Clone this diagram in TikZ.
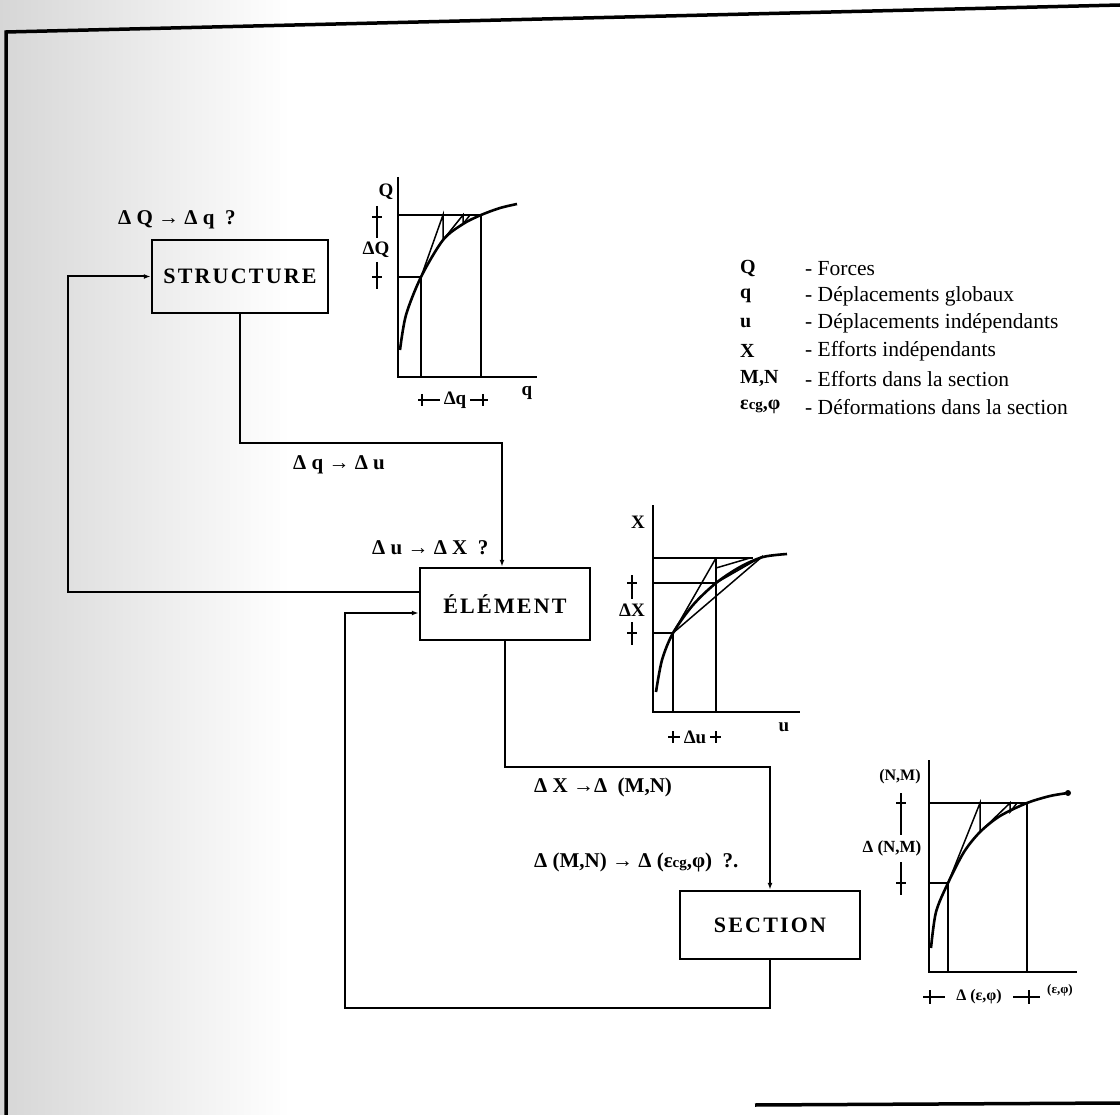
\documentclass[tikz,border=0pt]{standalone}
\usepackage{fontspec}
\setmainfont{Liberation Serif}
\newfontfamily\boxfont[LetterSpace=10]{Liberation Serif}
\usetikzlibrary{arrows.meta}
\begin{document}
\begin{tikzpicture}[x=1pt,y=-1pt,
  box/.style={draw,line width=2.5pt,inner sep=0pt,font=\boxfont\fontsize{22}{24}\selectfont\bfseries},
  arr/.style={line width=2pt,-{Latex[length=7pt,width=5pt]}},
  lbl/.style={anchor=west,inner sep=0pt,font=\fontsize{21}{23}\selectfont\bfseries},
  ax/.style={line width=2.2pt},
  thn/.style={line width=1.5pt},
  crv/.style={line width=2.6pt},
  leg/.style={anchor=west,inner sep=0pt,font=\fontsize{21.5}{23}\selectfont},
  legs/.style={anchor=west,inner sep=0pt,font=\fontsize{20}{22}\selectfont\bfseries},
  gl/.style={inner sep=0pt,font=\fontsize{19}{21}\selectfont\bfseries},
  gls/.style={inner sep=0pt,font=\fontsize{16}{18}\selectfont\bfseries},
  frame/.style={line width=3.5pt}]
\useasboundingbox (0,0) rectangle (1120,1115);
% scan shading on the left
\shade[left color=gray!32,right color=white] (0,0) rectangle (290,1115);
% frame
\draw[frame] (1120,5) -- (6,32) -- (6,1115);
\draw[frame] (755,1105) -- (1120,1103);

% boxes
\node[box,minimum width=176pt,minimum height=73pt] (S) at (240,276.5) {STRUCTURE};
\node[box,minimum width=170pt,minimum height=72pt] (E) at (505,604) {ÉLÉMENT};
\node[box,minimum width=180pt,minimum height=68pt] (C) at (770,925) {SECTION};

% connectors
\coordinate (t1) at (400,443);
\coordinate (m1) at (650,767);
\coordinate (lp) at (68,400);
\coordinate (bl) at (345,1008);
\draw[arr] (S.south) |- (t1) -| ([xshift=-3pt]E.north);
\draw[arr] (E.south) |- (m1) -| (C.north);
\draw[arr] ([yshift=12pt]E.west) -| (lp) |- (S.west);
\draw[arr] (C.south) |- (bl) |- ([yshift=-9pt]E.west);

% step labels
\node[lbl] (l1) at (118,220) {Δ Q → Δ q ~?};
\node[lbl] (l2) at (293,465) {Δ q → Δ u};
\node[lbl] (l3) at (372,548) {Δ u → Δ X ~?};
\node[lbl] (l4) at (534,787) {Δ X →Δ ~(M,N)};
\node[lbl] (l5) at (534,862) {Δ (M,N) → Δ (ε{\fontsize{15}{15}\selectfont cg},φ) ~?.};

% legend
\node[legs] (k1) at (740,269) {Q};
\node[legs] (k2) at (740,296) {q};
\node[legs] (k3) at (740,323) {u};
\node[legs] (k4) at (740,351) {X};
\node[legs] (k5) at (740,379) {M,N};
\node[legs] (k6) at (740,407) {ε{\fontsize{15}{15}\selectfont cg},φ};
\node[leg] (d1) at (805,269) {- Forces};
\node[leg] (d2) at (805,296) {- Déplacements globaux};
\node[leg] (d3) at (805,323) {- Déplacements indépendants};
\node[leg] (d4) at (805,351) {- Efforts indépendants};
\node[leg] (d5) at (805,379) {- Efforts dans la section};
\node[leg] (d6) at (805,407) {- Déformations dans la section};

% ---------- graph Q ----------
\draw[ax] (398,177) -- (398,377) -- (537,377);
\draw[thn] (398,215) -- (481,215) -- (481,377);
\draw[thn] (398,277) -- (421,277) -- (421,377);
\draw[crv] plot[smooth] coordinates {(400,350) (406,315) (421,277) (443,240) (463,224) (481,215) (500,208) (517,204)};
\draw[thn] (421,277) -- (443,215) -- (443,240) -- (463,215) -- (463,224) -- (470,215);
\node[gl] (gQ) at (386,192) {Q};
\node[gl] (gq) at (527,393) {q};
\node[gl] (gdQ) at (376,250) {ΔQ};
\draw[thn] (372,217) -- (382,217) (377,206) -- (377,238);
\draw[thn] (372,277) -- (382,277) (377,262) -- (377,289);
\node[gl] (gdq) at (455,400) {Δq};
\draw[thn] (422,394) -- (422,406) (418,400) -- (440,400);
\draw[thn] (483,394) -- (483,406) (470,400) -- (488,400);

% ---------- graph X ----------
\draw[ax] (653,505) -- (653,712) -- (800,712);
\draw[thn] (653,558) -- (753,558);
\draw[thn] (653,583) -- (716,583);
\draw[thn] (653,633) -- (673,633) -- (673,712);
\draw[thn] (716,558) -- (716,712);
\draw[crv] plot[smooth] coordinates {(656,692) (662,660) (673,633) (693,605) (716,583) (740,567) (763,557) (787,554)};
\draw[thn] (673,633) -- (716,558);
\draw[thn] (673,633) -- (763,556);
\draw[thn] (716,583) -- (763,556);
\draw[thn] (716,568) -- (750,558);
\node[gl] (gX) at (638,522) {X};
\node[gl] (gu) at (784,727) {u};
\node[gl] (gdX) at (632,610) {ΔX};
\draw[thn] (627,583) -- (637,583) (632,575) -- (632,599);
\draw[thn] (627,633) -- (637,633) (632,622) -- (632,645);
\node[gl] (gdu) at (695,737) {Δu};
\draw[thn] (673,731) -- (673,743) (668,737) -- (680,737);
\draw[thn] (716,731) -- (716,743) (710,737) -- (721,737);

% ---------- graph (N,M) ----------
\draw[ax] (929,760) -- (929,972) -- (1077,972);
\draw[thn] (929,803) -- (1027,803) -- (1027,972);
\draw[thn] (929,883) -- (948,883) -- (948,972);
\draw[crv] plot[smooth] coordinates {(931,948) (936,912) (948,883) (964,852) (980,832) (1000,816) (1027,803) (1050,796) (1068,793)};
\fill (1068,793) circle (3pt);
\draw[thn] (948,883) -- (980,803) -- (980,832) -- (1010,803) -- (1010,812) -- (1017,803);
\node[gls] (gNM) at (900,777) {(N,M)};
\node[gls,font=\fontsize{17}{19}\selectfont\bfseries] (gdNM) at (892,848) {Δ (N,M)};
\draw[thn] (896,803) -- (906,803) (901,793) -- (901,835);
\draw[thn] (896,883) -- (906,883) (901,862) -- (901,895);
\node[gls] (gde) at (979,997) {Δ (ε,φ)};
\node[inner sep=0pt,font=\fontsize{13}{14}\selectfont\bfseries] (ge) at (1060,990) {(ε,φ)};
\draw[thn] (930,990) -- (930,1004) (923,997) -- (945,997);
\draw[thn] (1029,990) -- (1029,1004) (1013,997) -- (1040,997);
\end{tikzpicture}
\end{document}
